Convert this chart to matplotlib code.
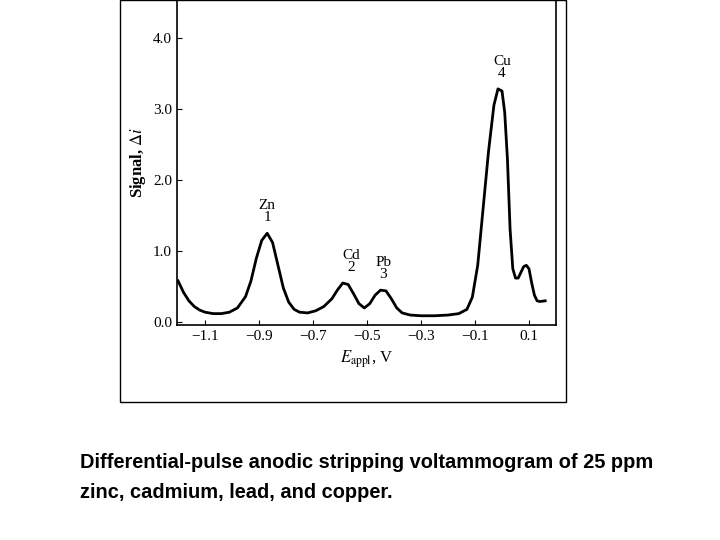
import matplotlib.pyplot as plt
from matplotlib.patches import Rectangle

# potential (V) and signal
E = [-1.20, -1.18, -1.16, -1.14, -1.12, -1.10, -1.07, -1.04, -1.01, -0.98, -0.95, -0.93,
     -0.91, -0.89, -0.87, -0.85, -0.83, -0.81, -0.79, -0.77, -0.75, -0.72, -0.69,
     -0.66, -0.63, -0.61, -0.59, -0.57, -0.55, -0.53, -0.51, -0.49, -0.47, -0.45,
     -0.43, -0.41, -0.39, -0.37, -0.34, -0.30, -0.25, -0.20, -0.16, -0.13, -0.11,
     -0.09, -0.07, -0.05, -0.03, -0.015, 0.00, 0.01, 0.02, 0.03, 0.04, 0.05, 0.06,
     0.07, 0.08, 0.09, 0.10, 0.11, 0.12, 0.13, 0.14, 0.16]
sig = [0.58, 0.42, 0.30, 0.22, 0.17, 0.14, 0.12, 0.12, 0.14, 0.20, 0.36, 0.58,
       0.90, 1.15, 1.25, 1.12, 0.80, 0.48, 0.28, 0.18, 0.14, 0.13, 0.16,
       0.22, 0.33, 0.45, 0.55, 0.53, 0.40, 0.26, 0.20, 0.26, 0.38, 0.45,
       0.44, 0.33, 0.20, 0.13, 0.10, 0.09, 0.09, 0.10, 0.12, 0.18, 0.35,
       0.80, 1.60, 2.40, 3.05, 3.28, 3.25, 2.95, 2.30, 1.30, 0.75, 0.62, 0.62,
       0.70, 0.78, 0.80, 0.75, 0.55, 0.38, 0.30, 0.29, 0.30]
peak_names = ['Zn\n1', 'Cd\n2', 'Pb\n3', 'Cu\n4']
peak_E = [-0.87, -0.56, -0.44, 0.0]
peak_y = [1.38, 0.68, 0.58, 3.40]

plt.rcParams['font.family'] = ['Liberation Serif', 'DejaVu Serif']
plt.rcParams['mathtext.fontset'] = 'stix'
fig = plt.figure(figsize=(7.2, 5.4), dpi=100)
fig.patches.append(Rectangle((120/720, 1-402/540), 446/720, 402/540, transform=fig.transFigure,
                             fill=False, edgecolor='black', linewidth=1))
ax = fig.add_axes([177/720, 1-325/540, 379/720, 325/540])
ax.plot(E, sig, color='black', linewidth=2)
for n, x, y in zip(peak_names, peak_E, peak_y):
    ax.text(x, y, n, ha='center', va='bottom', fontsize=11, linespacing=0.9)
ax.set_xlim(-1.204, 0.2)
ax.set_ylim(-0.04, 4.53)
ax.set_xticks([-1.1, -0.9, -0.7, -0.5, -0.3, -0.1, 0.1])
ax.set_xticklabels(['\u22121.1', '\u22120.9', '\u22120.7', '\u22120.5', '\u22120.3', '\u22120.1', '0.1'])
ax.set_yticks([0, 1, 2, 3, 4])
ax.set_yticklabels(['0.0', '1.0', '2.0', '3.0', '4.0'])
ax.tick_params(direction='in', labelsize=11, top=False, right=False)
ax.set_ylabel('Signal, $\\Delta i$', fontsize=12, fontweight='bold')
ax.set_xlabel('$E_{\\mathrm{appl}}$, V', fontsize=12)
for s in ax.spines.values():
    s.set_linewidth(1.2)
fig.text(80/720, 1-462/540, 'Differential-pulse anodic stripping voltammogram of 25 ppm',
         family='Liberation Sans', fontweight='bold', fontsize=14.4, va='center')
fig.text(80/720, 1-492/540, 'zinc, cadmium, lead, and copper.',
         family='Liberation Sans', fontweight='bold', fontsize=14.4, va='center')
fig.savefig('out.png', dpi=100)
